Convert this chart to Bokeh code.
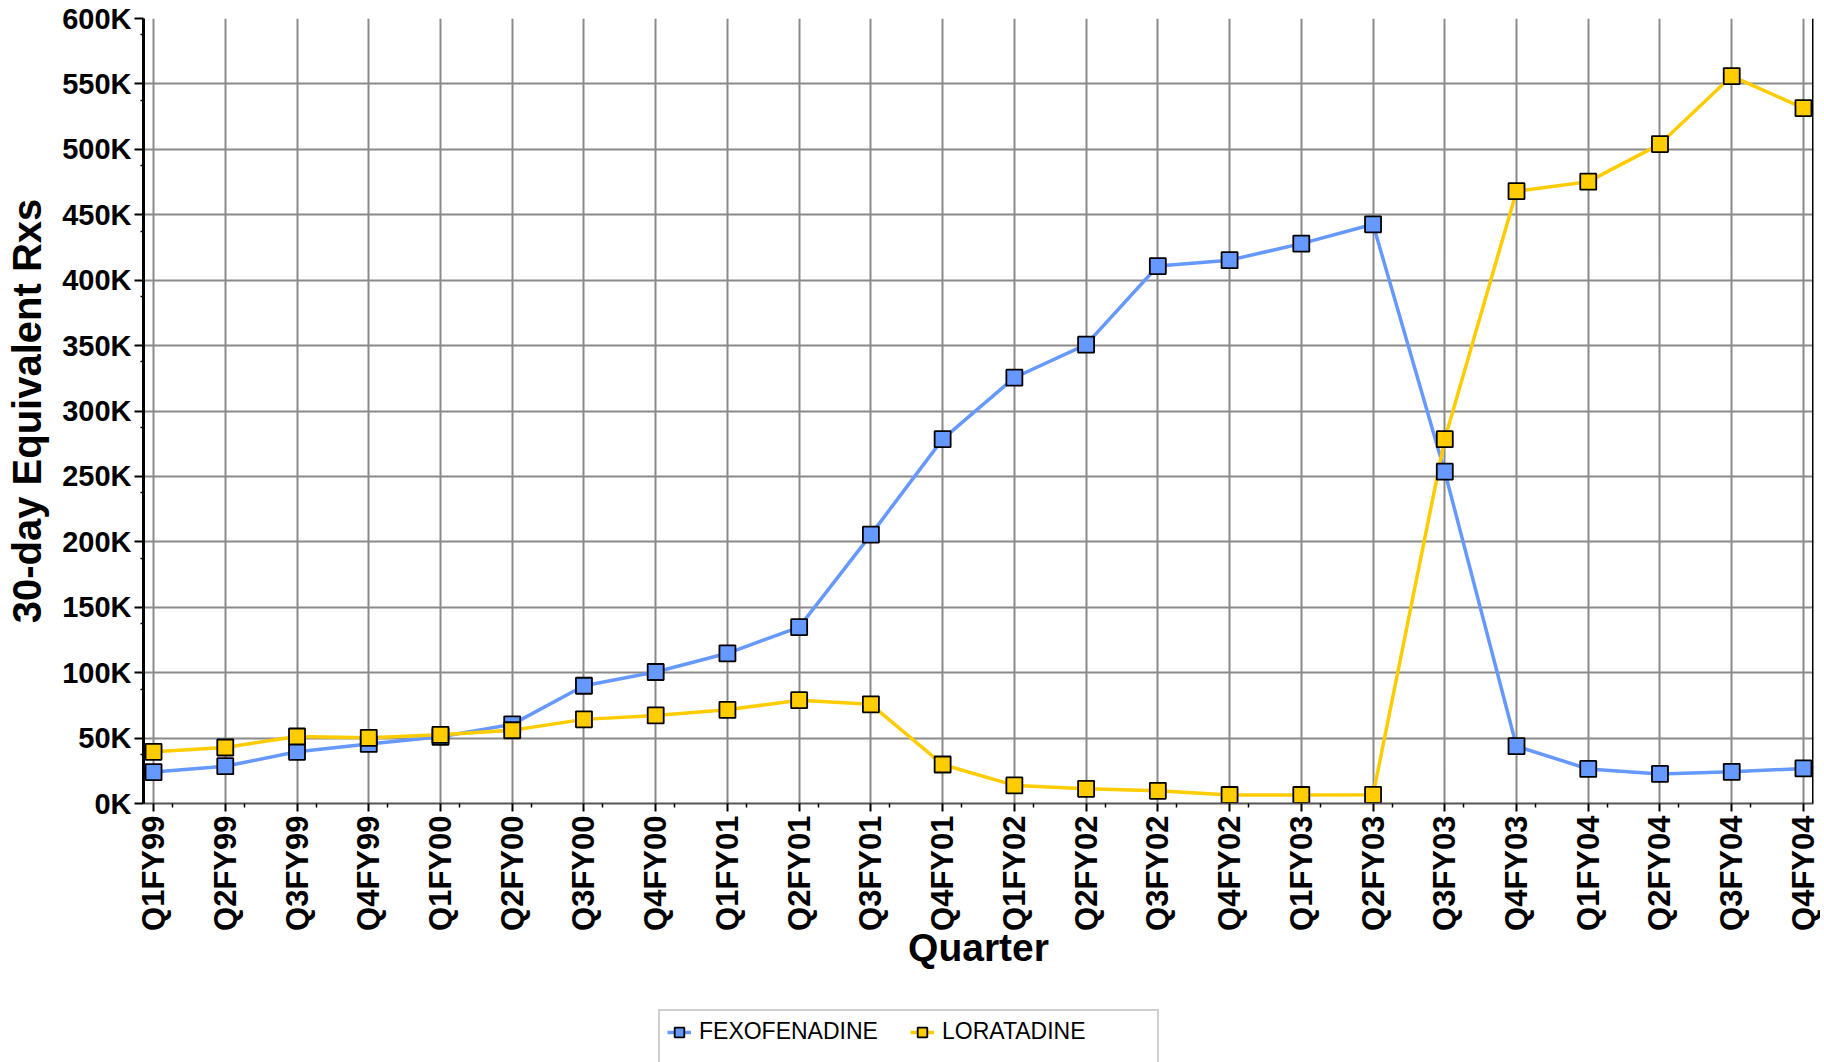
from bokeh.plotting import figure
from bokeh.layouts import column
from bokeh.models import (Range1d, FixedTicker, Legend, LegendItem, Span)
from bokeh.embed import file_html
from bokeh.resources import INLINE

quarters = ["Q1FY99", "Q2FY99", "Q3FY99", "Q4FY99", "Q1FY00", "Q2FY00", "Q3FY00", "Q4FY00",
            "Q1FY01", "Q2FY01", "Q3FY01", "Q4FY01", "Q1FY02", "Q2FY02", "Q3FY02", "Q4FY02",
            "Q1FY03", "Q2FY03", "Q3FY03", "Q4FY03", "Q1FY04", "Q2FY04", "Q3FY04", "Q4FY04"]
fexofenadine = [24000, 28500, 39500, 45500, 51000, 60500, 90000, 100500,
                114800, 134800, 205500, 278500, 325500, 350700, 410800, 415300,
                427900, 442700, 253600, 43800, 26400, 22600, 24200, 26800]
loratadine = [39500, 42800, 51200, 50200, 52500, 56000, 64300, 67300,
              71600, 79000, 75800, 29800, 13800, 11200, 9700, 6500,
              6500, 6600, 278500, 468000, 475300, 504000, 556000, 531500]
y_ticks = [0, 50000, 100000, 150000, 200000, 250000, 300000, 350000, 400000,
           450000, 500000, 550000, 600000]
y_tick_labels = ["0K", "50K", "100K", "150K", "200K", "250K", "300K", "350K", "400K",
                 "450K", "500K", "550K", "600K"]
series_names = ["FEXOFENADINE", "LORATADINE"]

FONT = "Liberation Sans"
BLUE = "#6699FF"
YELLOW = "#FFCC00"

xs = list(range(len(quarters)))

W, H_MAIN, H_LEG = 1820, 1000, 62
LEFT, RIGHT, TOP, BOTTOM = 143, 1813, 18, 803
p = figure(width=W, height=H_MAIN, output_backend="svg", toolbar_location=None,
           x_range=Range1d(-0.14, len(quarters) - 1 + 0.14),
           y_range=Range1d(y_ticks[0], y_ticks[-1]),
           min_border_left=LEFT, min_border_right=W - RIGHT, min_border_top=TOP,
           min_border_bottom=H_MAIN - BOTTOM)
p.outline_line_color = None
p.background_fill_color = "white"
p.border_fill_color = "white"

# grids
p.xgrid.ticker = FixedTicker(ticks=xs)
p.ygrid.ticker = FixedTicker(ticks=y_ticks)
for g in (p.xgrid, p.ygrid):
    g.grid_line_color = "#8a8a8a"
    g.grid_line_width = 2

# x axis
xa = p.xaxis[0]
xa.ticker = FixedTicker(ticks=xs, minor_ticks=[i + 0.265 for i in xs[:-1]])
xa.major_label_overrides = {i: q for i, q in zip(xs, quarters)}
xa.major_label_orientation = 3.14159265 / 2
xa.major_label_text_font = FONT
xa.major_label_text_font_style = "bold"
xa.major_label_text_font_size = "31px"
xa.major_label_text_color = "black"
xa.major_label_standoff = 4
xa.axis_line_color = "#555555"
xa.axis_line_width = 2
xa.major_tick_line_color = "black"
xa.major_tick_line_width = 2
xa.major_tick_out = 8
xa.major_tick_in = 0
xa.minor_tick_line_color = "black"
xa.minor_tick_line_width = 1.5
xa.minor_tick_out = 4
xa.minor_tick_in = 0
xa.axis_label = "Quarter"
xa.axis_label_text_font = FONT
xa.axis_label_text_font_style = "bold"
xa.axis_label_text_font_size = "39px"
xa.axis_label_text_color = "black"
xa.axis_label_standoff = -8

# y axis
ya = p.yaxis[0]
ya.ticker = FixedTicker(ticks=y_ticks, minor_ticks=[t - 12500 for t in y_ticks[1:]])
ya.major_label_overrides = {t: l for t, l in zip(y_ticks, y_tick_labels)}
ya.major_label_text_font = FONT
ya.major_label_text_font_style = "bold"
ya.major_label_text_font_size = "29px"
ya.major_label_text_color = "black"
ya.major_label_standoff = 3
ya.axis_line_color = "black"
ya.axis_line_width = 3
ya.major_tick_line_color = "black"
ya.major_tick_line_width = 2
ya.major_tick_out = 9
ya.major_tick_in = 0
ya.minor_tick_line_color = "black"
ya.minor_tick_line_width = 1.5
ya.minor_tick_out = 3
ya.minor_tick_in = 0
ya.axis_label = "30-day Equivalent Rxs"
ya.axis_label_text_font = FONT
ya.axis_label_text_font_style = "bold"
ya.axis_label_text_font_size = "40px"
ya.axis_label_text_color = "black"
ya.axis_label_standoff = 10

# right border
p.add_layout(Span(location=len(quarters) - 1 + 0.14, dimension="height",
                  line_color="black", line_width=3))

# series
p.line(xs, fexofenadine, line_color=BLUE, line_width=3.5)
p.line(xs, loratadine, line_color=YELLOW, line_width=3.5)
p.scatter(xs, fexofenadine, marker="square", size=16, fill_color=BLUE,
          line_color="black", line_width=1.8)
p.scatter(xs, loratadine, marker="square", size=16, fill_color=YELLOW,
          line_color="black", line_width=1.8)

# legend strip below the chart (same side borders so the column keeps alignment)
lg = figure(width=W, height=H_LEG, output_backend="svg", toolbar_location=None,
            x_range=Range1d(0, 1), y_range=Range1d(0, 1),
            x_axis_location=None, y_axis_location=None,
            min_border_left=LEFT, min_border_right=W - RIGHT, min_border_top=0,
            min_border_bottom=0)
lg.outline_line_color = None
lg.xgrid.visible = False
lg.ygrid.visible = False
items = []
for name, col in zip(series_names, [BLUE, YELLOW]):
    lr = lg.line([-10, -9], [-10, -10], line_color=col, line_width=3.5)
    sr = lg.scatter([-10], [-10], marker="square", size=16, fill_color=col,
                    line_color="black", line_width=1.8)
    items.append(LegendItem(label=name, renderers=[lr, sr]))
blank = lg.scatter([-10], [-10], marker="square", size=1, fill_alpha=0, line_alpha=0)
items.append(LegendItem(label=" ", renderers=[blank]))

legend = Legend(items=items, orientation="horizontal", ncols=2,
                location=(658 - LEFT, -19),
                label_text_font=FONT, label_text_font_size="23px", label_text_color="black",
                glyph_width=24, glyph_height=24, label_height=24, label_width=208,
                label_standoff=8, spacing=3, padding=7, margin=0,
                border_line_color="#a0a0a0", border_line_width=2,
                background_fill_color="white", background_fill_alpha=1)
lg.add_layout(legend, "center")

layout = column(p, lg, spacing=0)
open("out.html", "w").write(file_html(layout, INLINE))
